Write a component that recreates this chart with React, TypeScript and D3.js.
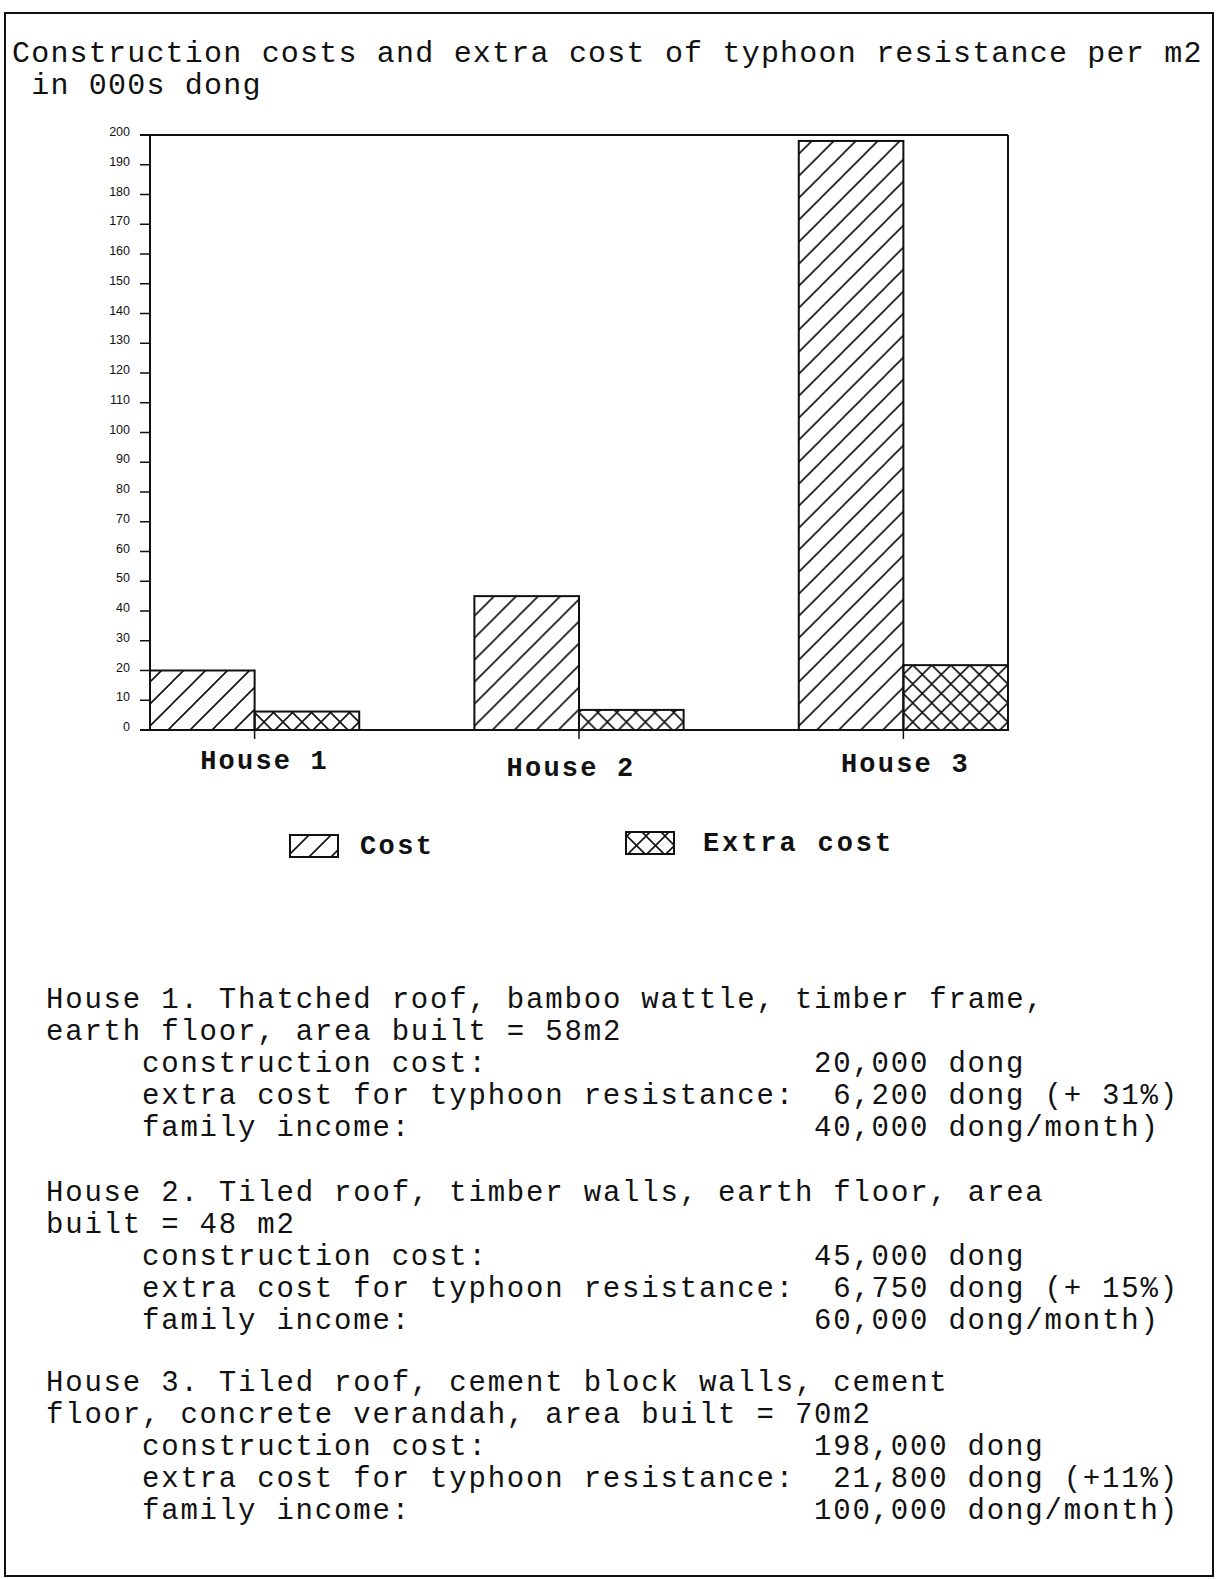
import React from "react";
import * as d3 from "d3";

const houses = ["House 1", "House 2", "House 3"];
const seriesNames = ["Cost", "Extra cost"];
const costValues = [20, 45, 198];
const extraCostValues = [6.2, 6.75, 21.8];
const yTickValues = [0, 10, 20, 30, 40, 50, 60, 70, 80, 90, 100, 110, 120, 130, 140, 150, 160, 170, 180, 190, 200];

const titleLines = [
  "Construction costs and extra cost of typhoon resistance per m2",
  " in 000s dong",
];

const house1Desc = ["House 1. Thatched roof, bamboo wattle, timber frame,", "earth floor, area built = 58m2"];
const house2Desc = ["House 2. Tiled roof, timber walls, earth floor, area", "built = 48 m2"];
const house3Desc = ["House 3. Tiled roof, cement block walls, cement", "floor, concrete verandah, area built = 70m2"];

const itemLabels = ["construction cost:", "extra cost for typhoon resistance:", "family income:"];
const house1Values = ["20,000 dong", " 6,200 dong (+ 31%)", "40,000 dong/month)"];
const house2Values = ["45,000 dong", " 6,750 dong (+ 15%)", "60,000 dong/month)"];
const house3Values = ["198,000 dong", " 21,800 dong (+11%)", "100,000 dong/month)"];

const W = 1217;
const H = 1579;
const MONO = "'Liberation Mono', 'Courier New', monospace";
const SANS = "'Liberation Sans', Arial, sans-serif";
const INK = "#111";
const CW = 19.2; // monospace advance

export default function App() {
  const plotLeft = 150;
  const plotRight = 1008;
  const plotTop = 135;
  const plotBottom = 730;

  const x = d3.scaleBand<string>().domain(houses).range([plotLeft, plotRight]).paddingInner(0.355).paddingOuter(0);
  const xs = d3.scaleBand<string>().domain(seriesNames).range([0, x.bandwidth()]);
  const y = d3.scaleLinear().domain([0, 200]).range([plotBottom, plotTop]);

  const rows = houses.map((h, i) => ({ house: h, values: [costValues[i], extraCostValues[i]] }));
  const patternIds = ["hatchDiag", "hatchCross"];

  const descs = [house1Desc, house2Desc, house3Desc];
  const vals = [house1Values, house2Values, house3Values];
  const blockStarts = [1008, 1201, 1391];
  const lineH = 32;
  const textLeft = 46;

  const labelBaselines = [769, 776, 772];
  const labelShift = [10, -8, 2];

  const bodyText = { fontFamily: MONO, fontSize: 29, letterSpacing: CW - 29 * 0.6, fill: INK };

  return (
    <svg width={W} height={H} style={{ position: "absolute", left: 0, top: 0, background: "#fff" }}>
      <defs>
        <pattern id="hatchDiag" patternUnits="userSpaceOnUse" width={22} height={22}>
          <path d="M-5.5,5.5 L5.5,-5.5 M0,22 L22,0 M16.5,27.5 L27.5,16.5" stroke={INK} strokeWidth={1.6} />
        </pattern>
        <pattern id="hatchCross" patternUnits="userSpaceOnUse" width={19} height={19}>
          <path
            d="M-4.75,4.75 L4.75,-4.75 M0,19 L19,0 M14.25,23.75 L23.75,14.25 M-4.75,14.25 L4.75,23.75 M0,0 L19,19 M14.25,-4.75 L23.75,4.75"
            stroke={INK}
            strokeWidth={1.6}
          />
        </pattern>
      </defs>
      <rect x={0} y={0} width={W} height={H} fill="#fff" />
      <rect x={5} y={13} width={1208} height={1563} fill="none" stroke={INK} strokeWidth={2} />

      {titleLines.map((t, i) => (
        <text key={i} x={12} y={62 + i * 32} {...bodyText} fontSize={30} letterSpacing={CW - 30 * 0.6} style={{ whiteSpace: "pre" }}>
          {t}
        </text>
      ))}

      {rows.map((r) => (
        <g key={r.house} transform={`translate(${x(r.house)},0)`}>
          {r.values.map((v, j) => (
            <rect
              key={j}
              x={xs(seriesNames[j])}
              y={y(v)}
              width={xs.bandwidth()}
              height={y(0) - y(v)}
              fill={`url(#${patternIds[j]})`}
              stroke={INK}
              strokeWidth={2}
            />
          ))}
        </g>
      ))}

      <line x1={plotLeft - 10} x2={plotRight} y1={y(200)} y2={y(200)} stroke={INK} strokeWidth={2} />
      <line x1={plotRight} x2={plotRight} y1={y(200)} y2={y(0)} stroke={INK} strokeWidth={2} />
      <line x1={plotLeft - 10} x2={plotRight} y1={y(0)} y2={y(0)} stroke={INK} strokeWidth={2} />
      <line x1={plotLeft} x2={plotLeft} y1={y(200)} y2={y(0)} stroke={INK} strokeWidth={2} />

      {yTickValues.map((t) => (
        <g key={t}>
          <line x1={plotLeft - 10} x2={plotLeft} y1={y(t)} y2={y(t)} stroke={INK} strokeWidth={1.5} />
          <text x={130} y={y(t) + 1} textAnchor="end" fontFamily={SANS} fontSize={12.5} fill={INK}>
            {t}
          </text>
        </g>
      ))}

      {houses.map((h, i) => {
        const cx = (x(h) as number) + x.bandwidth() / 2;
        return (
          <g key={h}>
            <line x1={cx} x2={cx} y1={y(0)} y2={y(0) + 9} stroke={INK} strokeWidth={1.5} />
            <text
              x={cx + labelShift[i]}
              y={labelBaselines[i]}
              textAnchor="middle"
              fontFamily={MONO}
              fontSize={27}
              letterSpacing={18.4 - 27 * 0.6}
              fontWeight="bold"
              fill={INK}
            >
              {h}
            </text>
          </g>
        );
      })}

      <rect x={290} y={835} width={48} height={22} fill="url(#hatchDiag)" stroke={INK} strokeWidth={2} />
      <text x={360} y={854} fontFamily={MONO} fontSize={27} letterSpacing={18.6 - 27 * 0.6} fontWeight="bold" fill={INK}>
        {seriesNames[0]}
      </text>
      <rect x={626} y={832} width={48} height={22} fill="url(#hatchCross)" stroke={INK} strokeWidth={2} />
      <text x={703} y={851} fontFamily={MONO} fontSize={27} letterSpacing={19.1 - 27 * 0.6} fontWeight="bold" fill={INK}>
        {seriesNames[1]}
      </text>

      {descs.map((d, b) => (
        <g key={b}>
          {d.map((t, i) => (
            <text key={`d${i}`} x={textLeft} y={blockStarts[b] + i * lineH} {...bodyText}>
              {t}
            </text>
          ))}
          {itemLabels.map((t, i) => (
            <text key={`l${i}`} x={textLeft + 5 * CW} y={blockStarts[b] + (i + 2) * lineH} {...bodyText}>
              {t}
            </text>
          ))}
          {vals[b].map((t, i) => (
            <text
              key={`v${i}`}
              x={textLeft + 40 * CW}
              y={blockStarts[b] + (i + 2) * lineH}
              {...bodyText}
              style={{ whiteSpace: "pre" }}
            >
              {t}
            </text>
          ))}
        </g>
      ))}
    </svg>
  );
}
